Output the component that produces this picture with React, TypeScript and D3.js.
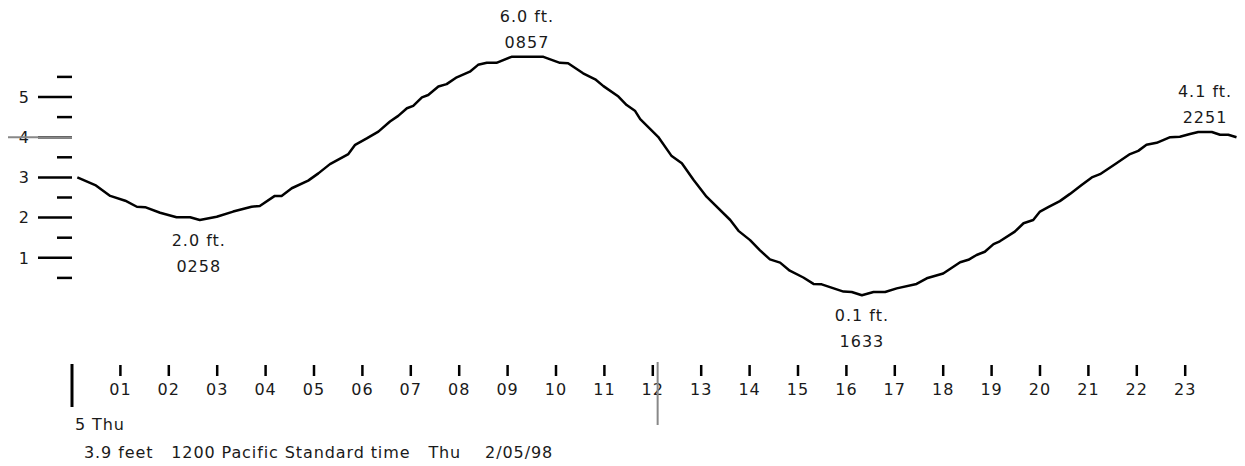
import React from "react";
import * as d3 from "d3";

// Tide curve: hour of day and height in feet
const hours = [0.11,0.48,0.79,1.10,1.34,1.51,1.82,2.16,2.44,2.64,2.99,3.33,3.71,3.88,4.19,4.33,4.54,4.88,5.09,5.33,5.71,5.85,6.09,6.33,6.57,6.74,6.92,7.05,7.23,7.36,7.57,7.74,7.95,8.22,8.39,8.57,8.77,9.08,9.74,10.08,10.25,10.56,10.81,10.98,11.29,11.46,11.63,11.74,12.11,12.39,12.60,12.84,13.11,13.60,13.77,14.01,14.21,14.42,14.63,14.83,15.11,15.32,15.49,15.94,16.11,16.32,16.56,16.80,17.04,17.45,17.66,18.00,18.35,18.52,18.69,18.86,19.04,19.17,19.48,19.66,19.86,20.00,20.17,20.41,20.62,20.86,21.07,21.24,21.58,21.86,22.03,22.20,22.41,22.69,22.89,23.10,23.27,23.55,23.72,23.89,24.06];
const feet = [3.00,2.81,2.54,2.42,2.27,2.26,2.12,2.01,2.01,1.94,2.02,2.15,2.27,2.29,2.54,2.54,2.73,2.92,3.10,3.33,3.58,3.81,3.97,4.14,4.39,4.53,4.72,4.78,4.99,5.05,5.26,5.32,5.49,5.63,5.80,5.85,5.85,6.00,6.00,5.85,5.84,5.59,5.44,5.27,5.01,4.80,4.66,4.45,4.01,3.53,3.35,2.94,2.52,1.94,1.67,1.44,1.19,0.96,0.88,0.68,0.51,0.35,0.34,0.16,0.15,0.07,0.15,0.15,0.24,0.35,0.49,0.61,0.89,0.95,1.07,1.15,1.34,1.41,1.65,1.86,1.94,2.15,2.26,2.41,2.59,2.81,3.00,3.08,3.35,3.58,3.66,3.81,3.86,4.00,4.01,4.08,4.13,4.13,4.06,4.06,4.00];

// High / low annotations
const extremeKind = ["low", "high", "low", "high"];
const extremeHeight = ["2.0 ft.", "6.0 ft.", "0.1 ft.", "4.1 ft."];
const extremeTime = ["0258", "0857", "1633", "2251"];
const extremeHour = [2.62, 9.4, 16.32, 23.41];
const extremeFeet = [1.94, 6.0, 0.07, 4.13];

// Axes
const yMajor = [1, 2, 3, 4, 5];
const yMinor = [0.5, 1.5, 2.5, 3.5, 4.5, 5.5];
const hourTicks = d3.range(1, 24);
const hourLabels = hourTicks.map((h) => (h < 10 ? "0" + h : String(h)));

// Current reading
const currentFeet = 4.0;
const currentHour = 12.1;
const dayLabel = "5 Thu";
const statusLine = "3.9 feet   1200 Pacific Standard time   Thu    2/05/98";

const W = 1245;
const H = 466;
const FONT = "'DejaVu Sans', Verdana, sans-serif";
const TXT = "#1a1a1a";

export default function App() {
  const x = d3.scaleLinear().domain([0, 24]).range([72, 1233.6]);
  const y = d3.scaleLinear().domain([0, 6]).range([298, 56.8]);
  const line = d3
    .line<number>()
    .x((_, i) => x(hours[i]))
    .y((d) => y(d));
  const axisX = x(0);
  const tickTop = 365;
  const tickBot = 376;

  return (
    <svg
      width={W}
      height={H}
      style={{ position: "absolute", left: 0, top: 0, background: "#fff" }}
      fontFamily={FONT}
      fontSize={16}
    >
      {/* y axis ticks */}
      {yMajor.map((v) => (
        <g key={"M" + v}>
          <line x1={38} x2={axisX} y1={y(v)} y2={y(v)} stroke="#000" strokeWidth={2.5} />
          <text x={29} y={y(v)} dy="0.36em" textAnchor="end" fill={TXT}>
            {v}
          </text>
        </g>
      ))}
      {yMinor.map((v) => (
        <line key={"m" + v} x1={57} x2={axisX} y1={y(v)} y2={y(v)} stroke="#000" strokeWidth={2.5} />
      ))}
      {/* current level marker */}
      <line x1={8} x2={axisX} y1={y(currentFeet)} y2={y(currentFeet)} stroke="#888" strokeWidth={2} />

      {/* tide curve */}
      <path d={line(feet) || ""} fill="none" stroke="#000" strokeWidth={2.5} strokeLinejoin="round" />

      {/* extremes */}
      {extremeKind.map((k, i) => {
        const cx = x(extremeHour[i]);
        const py = y(extremeFeet[i]);
        const b1 = k === "high" ? py - 35 : py + 26;
        return (
          <g key={"e" + i} textAnchor="middle" fill={TXT} letterSpacing={1}>
            <text x={cx} y={b1}>{extremeHeight[i]}</text>
            <text x={cx} y={b1 + 26}>{extremeTime[i]}</text>
          </g>
        );
      })}

      {/* x axis */}
      <line x1={axisX} x2={axisX} y1={364} y2={407} stroke="#000" strokeWidth={3} />
      {hourTicks.map((h, i) => (
        <g key={"h" + h}>
          <line x1={x(h)} x2={x(h)} y1={tickTop} y2={tickBot} stroke="#000" strokeWidth={2.5} />
          <text x={x(h)} y={395} textAnchor="middle" fill={TXT} letterSpacing={1}>
            {hourLabels[i]}
          </text>
        </g>
      ))}
      <line x1={x(currentHour)} x2={x(currentHour)} y1={362} y2={425} stroke="#888" strokeWidth={2} />

      <text x={75} y={430} fill={TXT} letterSpacing={0.9}>
        {dayLabel}
      </text>
      <text x={84} y={458} fill={TXT} letterSpacing={0.9} style={{ whiteSpace: "pre" }}>
        {statusLine}
      </text>
    </svg>
  );
}
